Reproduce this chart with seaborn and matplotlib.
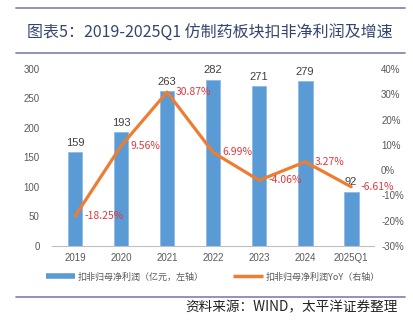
import matplotlib
matplotlib.use("Agg")
import matplotlib.pyplot as plt
from matplotlib.lines import Line2D
import seaborn as sns
import pandas as pd

# Data
periods = ["2019", "2020", "2021", "2022", "2023", "2024", "2025Q1"]
profit = [159, 193, 263, 282, 271, 279, 92]            # 亿元
yoy = [-18.25, 9.56, 30.87, 6.99, -4.06, 3.27, -6.61]   # %
left_ticks = [0, 50, 100, 150, 200, 250, 300]
right_ticks = [-30, -20, -10, 0, 10, 20, 30, 40]

BAR_C = "#5B9BD5"
LINE_C = "#ED7D31"
LABEL_RED = "#E0393E"
TXT = "#595959"
RULE_C = "#8A8AB5"
CJK = ["Noto Sans CJK SC", "DejaVu Sans"]
NUM = ["Liberation Sans", "DejaVu Sans"]

sns.set_theme(style="white")
plt.rcParams["font.family"] = NUM

df = pd.DataFrame({"period": periods, "profit": profit, "yoy": yoy})

fig = plt.figure(figsize=(4.13, 3.21), dpi=100)
ax = fig.add_axes([0.126, 0.234, 0.780, 0.551])

sns.barplot(data=df, x="period", y="profit", ax=ax, color=BAR_C,
            width=0.32, saturation=1, edgecolor="#8DBBE6", linewidth=0.6)
ax.bar_label(ax.containers[0], labels=[str(v) for v in profit], padding=3,
             fontsize=8, color="#404040")
ax.set_ylim(0, 300)
ax.set_yticks(left_ticks)
ax.set_xlim(-0.5, len(periods) - 0.5)
ax.set_xlabel("")
ax.set_ylabel("")

ax2 = ax.twinx()
sns.pointplot(data=df, x="period", y="yoy", ax=ax2, color=LINE_C,
              markers="", linestyles="-", linewidth=2.3)
ax2.set_ylim(-30, 40)
ax2.set_yticks(right_ticks)
ax2.set_yticklabels([f"{t}%" for t in right_ticks])
ax2.set_ylabel("")
ax2.set_xlim(-0.5, len(periods) - 0.5)
for i, v in enumerate(yoy):
    ax2.annotate(f"{v:.2f}%", (i, v), xytext=(6.5, 0), textcoords="offset points",
                 ha="left", va="center", fontsize=7.5, color=LABEL_RED,
                 family=CJK)

for a in (ax, ax2):
    for s in a.spines.values():
        s.set_visible(False)
    a.grid(False)
ax.spines["bottom"].set_visible(True)
ax.spines["bottom"].set_color("#BFBFBF")
ax.spines["bottom"].set_linewidth(0.8)

ax.tick_params(axis="y", length=0, pad=9, labelsize=7, labelcolor=TXT)
ax2.tick_params(axis="y", length=0, pad=5, labelsize=7, labelcolor=TXT)
ax.tick_params(axis="x", which="major", length=0, pad=5, labelsize=7, labelcolor=TXT)
ax.set_xticks([i - 0.5 for i in range(len(periods) + 1)], minor=True)
ax.tick_params(axis="x", which="minor", length=4, color="#BFBFBF", width=0.8,
               direction="out")

# Legend
handles = [Line2D([0], [0], color=BAR_C, lw=4, solid_capstyle="butt"),
           Line2D([0], [0], color=LINE_C, lw=2.5, solid_capstyle="butt")]
fig.legend(handles, ["扣非归母净利润（亿元，左轴）", "扣非归母净利润YoY（右轴）"],
           loc="center", bbox_to_anchor=(0.515, 1 - 277 / 321), ncol=2,
           frameon=False, prop={"family": CJK, "size": 6.5},
           labelcolor=TXT, handlelength=3.3, handletextpad=0.3, columnspacing=3.2)

# Title block and rules
for y in (8, 53, 297):
    fig.add_artist(Line2D([16 / 413, 405 / 413], [1 - y / 321, 1 - y / 321],
                          color=RULE_C, lw=1.3, transform=fig.transFigure))
fig.text(27 / 413, 1 - 32 / 321, "图表5：2019-2025Q1 仿制药板块扣非净利润及增速",
         ha="left", va="center", fontsize=11.5, color="#34466F", family=CJK)
fig.text(398 / 413, 1 - 307 / 321, "资料来源：WIND，太平洋证券整理",
         ha="right", va="center", fontsize=9.8, color="#222222", family=CJK,
         style="italic")

fig.savefig("out.png", dpi=100)
